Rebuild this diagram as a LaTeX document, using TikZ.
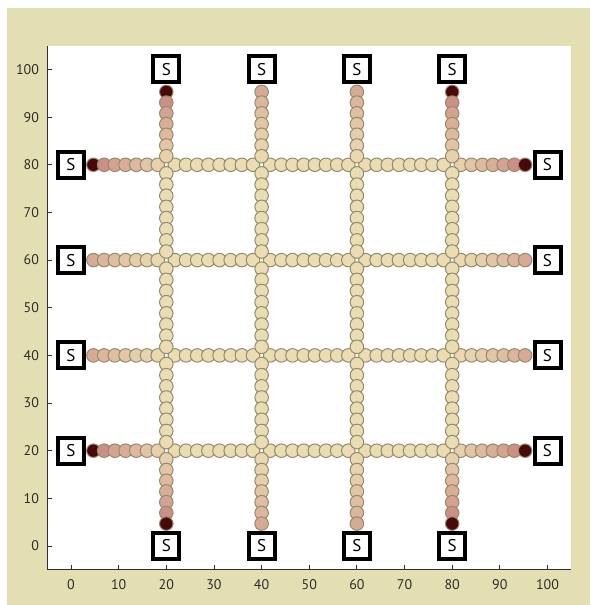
\documentclass[tikz,border=0pt]{standalone}
\usepackage{fontspec}
\setmainfont{PT Sans}
\definecolor{bgbeige}{RGB}{227,223,178}
\definecolor{bead}{RGB}{234,221,179}
\definecolor{beadedge}{RGB}{150,138,108}
\definecolor{axisgray}{RGB}{45,45,45}
% dark-ended chain palette (index 6 = at the source)
\definecolor{dk6}{RGB}{72,8,12}
\definecolor{dk5}{RGB}{203,143,133}
\definecolor{dk4}{RGB}{212,162,144}
\definecolor{dk3}{RGB}{217,174,151}
\definecolor{dk2}{RGB}{222,185,159}
\definecolor{dk1}{RGB}{226,197,166}
\definecolor{dk0}{RGB}{231,209,173}
% light-ended chain palette
\definecolor{lt6}{RGB}{214,170,149}
\definecolor{lt5}{RGB}{219,182,156}
\definecolor{lt4}{RGB}{223,191,162}
\definecolor{lt3}{RGB}{226,199,167}
\definecolor{lt2}{RGB}{229,206,171}
\definecolor{lt1}{RGB}{231,211,174}
\definecolor{lt0}{RGB}{233,216,176}
\tikzset{
  beadstyle/.style={draw=beadedge, line width=1pt},
  axisline/.style={draw=axisgray, line width=0.9pt},
  ticklab/.style={text=axisgray, inner sep=0pt, font=\fontsize{14}{14}\selectfont},
  sbox/.style={draw=black, line width=4pt, fill=white, minimum width=26pt,
    minimum height=26pt, inner sep=0pt, text=black, font=\fontsize{17}{17}\selectfont}
}
\begin{document}
\begin{tikzpicture}[x=1pt,y=1pt]
\useasboundingbox (0,0) rectangle (590,605);
\fill[white] (0,0) rectangle (590,605);
\fill[bgbeige] (7,0) rectangle (590,597);
\begin{scope}[shift={(71,59)}, x=4.765pt, y=4.765pt]
  \fill[white] (-5,-5) rectangle (105,105);
  % axes
  \draw[axisline] (-5,105) -- (-5,-5) -- (105,-5);
  \foreach \v in {0,10,...,100} {
    \draw[axisline] (-5,\v) -- ++(4.5pt,0);
    \draw[axisline] (\v,-5) -- ++(0,4.5pt);
    \node[ticklab, anchor=east, xshift=-8pt] (ylab\v) at (-5,\v) {\v};
    \node[ticklab, anchor=north, yshift=-10pt] (xlab\v) at (\v,-5) {\v};
  }
  % horizontal chains
  \foreach \yy/\pal in {20/dk,40/lt,60/lt,80/dk} {
    \foreach \k in {6,5,4,3,2,1,0}
      \filldraw[beadstyle, fill=\pal\k] ({18.2-\k*2.25},\yy) circle[radius=1.42];
    \foreach \c in {20,40,60}
      \foreach \j in {0,...,7}
        \filldraw[beadstyle, fill=bead] ({\c+1.8+\j*2.3429},\yy) circle[radius=1.42];
    \foreach \k in {0,1,2,3,4,5,6}
      \filldraw[beadstyle, fill=\pal\k] ({81.8+\k*2.25},\yy) circle[radius=1.42];
  }
  % vertical chains
  \foreach \xx/\pal in {20/dk,40/lt,60/lt,80/dk} {
    \foreach \k in {6,5,4,3,2,1,0}
      \filldraw[beadstyle, fill=\pal\k] (\xx,{81.8+\k*2.25}) circle[radius=1.42];
    \foreach \c in {80,60,40}
      \foreach \j in {0,...,7}
        \filldraw[beadstyle, fill=bead] (\xx,{\c-1.8-\j*2.3429}) circle[radius=1.42];
    \foreach \k in {0,1,2,3,4,5,6}
      \filldraw[beadstyle, fill=\pal\k] (\xx,{18.2-\k*2.25}) circle[radius=1.42];
  }
  % source boxes
  \foreach \c in {20,40,60,80} {
    \node[sbox] (sT\c) at (\c,100) {S};
    \node[sbox] (sB\c) at (\c,0) {S};
    \node[sbox] (sL\c) at (0,\c) {S};
    \node[sbox] (sR\c) at (100,\c) {S};
  }
\end{scope}
\end{tikzpicture}
\end{document}
